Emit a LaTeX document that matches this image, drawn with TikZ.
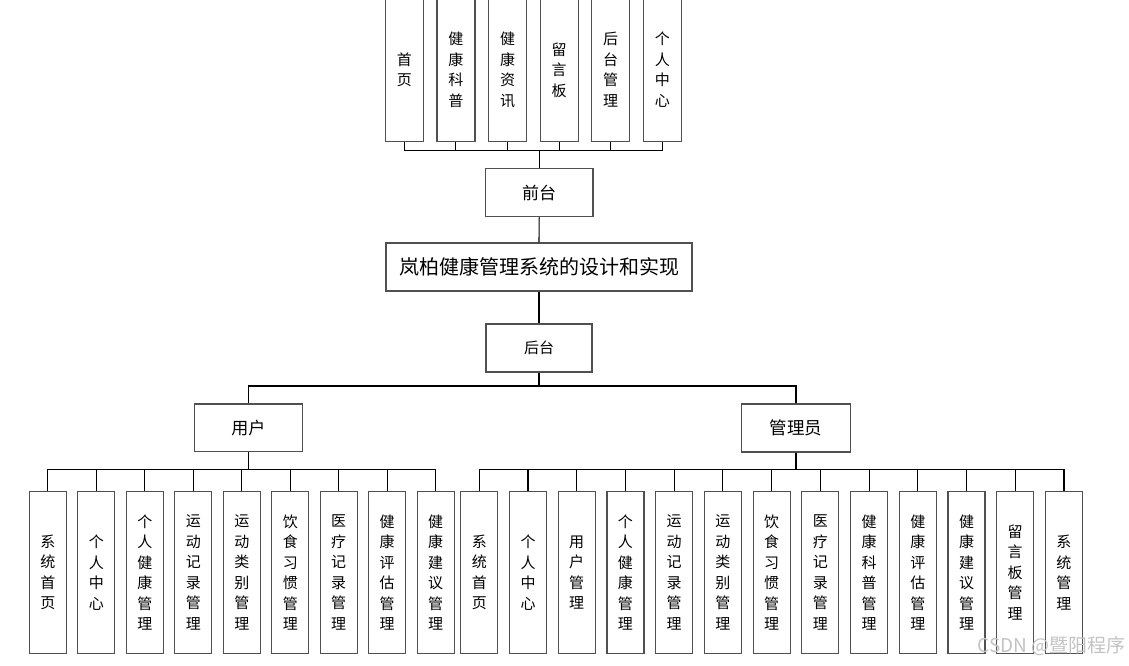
\documentclass[tikz,border=0pt]{standalone}
\usepackage{fontspec}
\newfontfamily\cjk{Noto Sans CJK SC}
\definecolor{boxgray}{RGB}{80,80,80}
\definecolor{wm}{RGB}{195,195,195}
\begin{document}
\begin{tikzpicture}[x=1pt,y=-1pt,
  box/.style={draw=boxgray,line width=1.2pt,fill=white,inner sep=0pt,font=\cjk},
  vbox/.style={box,minimum width=37pt,align=center,font=\cjk\fontsize{15}{20.5}\selectfont},
  topbox/.style={vbox,minimum width=38pt,minimum height=144pt},
  childbox/.style={vbox,minimum height=161.6pt},
  conn/.style={draw=black,line width=1.1pt}]
\useasboundingbox (0,0) rectangle (1129,665);
\fill[white] (0,0) rectangle (1129,665);

% top row
\foreach \t [count=\i] in {{首\\页},{健\\康\\科\\普},{健\\康\\资\\讯},{留\\言\\板},{后\\台\\管\\理},{个\\人\\中\\心}}{
  \node[topbox] (t\i) at ({404.3+51.6*(\i-1)},69.85) {\t};
}
\node[box,minimum width=107.7pt,minimum height=48.4pt,font=\cjk\fontsize{17}{20}\selectfont] (qt) at (539.2,192.5) {前台};
\node[box,minimum width=306pt,minimum height=48pt,font=\cjk\fontsize{20}{22}\selectfont] (main) at (539,267) {岚柏健康管理系统的设计和实现};
\node[box,minimum width=106pt,minimum height=48pt,font=\cjk\fontsize{15}{18}\selectfont] (ht) at (539,348) {后台};
\node[box,minimum width=108pt,minimum height=47.7pt,font=\cjk\fontsize{17}{20}\selectfont] (u) at (248.3,427.8) {用户};
\node[box,minimum width=109pt,minimum height=48pt,font=\cjk\fontsize{17.5}{20}\selectfont] (a) at (796,428) {管理员};

% user children
\foreach \t [count=\i] in {{系\\统\\首\\页},{个\\人\\中\\心},{个\\人\\健\\康\\管\\理},{运\\动\\记\\录\\管\\理},{运\\动\\类\\别\\管\\理},{饮\\食\\习\\惯\\管\\理},{医\\疗\\记\\录\\管\\理},{健\\康\\评\\估\\管\\理},{健\\康\\建\\议\\管\\理}}{
  \node[childbox] (uc\i) at ({47.8+48.49*(\i-1)},572.5) {\t};
}
% admin children
\foreach \t [count=\i] in {{系\\统\\首\\页},{个\\人\\中\\心},{用\\户\\管\\理},{个\\人\\健\\康\\管\\理},{运\\动\\记\\录\\管\\理},{运\\动\\类\\别\\管\\理},{饮\\食\\习\\惯\\管\\理},{医\\疗\\记\\录\\管\\理},{健\\康\\科\\普\\管\\理},{健\\康\\评\\估\\管\\理},{健\\康\\建\\议\\管\\理},{留\\言\\板\\管\\理},{系\\统\\管\\理}}{
  \node[childbox] (ac\i) at ({479.3+48.72*(\i-1)},572.5) {\t};
}

% connectors
\coordinate (tbus) at (539.2,150.7);
\foreach \i in {1,...,6} \draw[conn] (t\i.south) |- (tbus);
\draw[conn] (tbus) -- (qt.north);
\draw[conn] (qt.south) -- (main.north);
\draw[conn] (main.south) -- (ht.north);
\coordinate (hbus) at (539,386);
\draw[conn] (ht.south) -- (hbus);
\draw[conn] (hbus) -| (u.north);
\draw[conn] (hbus) -| (a.north);
\coordinate (ubus) at (248.3,469.7);
\foreach \i in {1,...,9} \draw[conn] (uc\i.north) |- (ubus);
\draw[conn] (u.south) -- (ubus);
\coordinate (abus) at (796,469.7);
\foreach \i in {1,...,13} \draw[conn] (ac\i.north) |- (abus);
\draw[conn] (a.south) -- (abus);

% watermark
\node[anchor=south east,inner sep=0pt,text=wm,font=\cjk\fontsize{19}{22}\selectfont] (wmk) at (1126,656) {CSDN @暨阳程序};
\end{tikzpicture}
\end{document}
